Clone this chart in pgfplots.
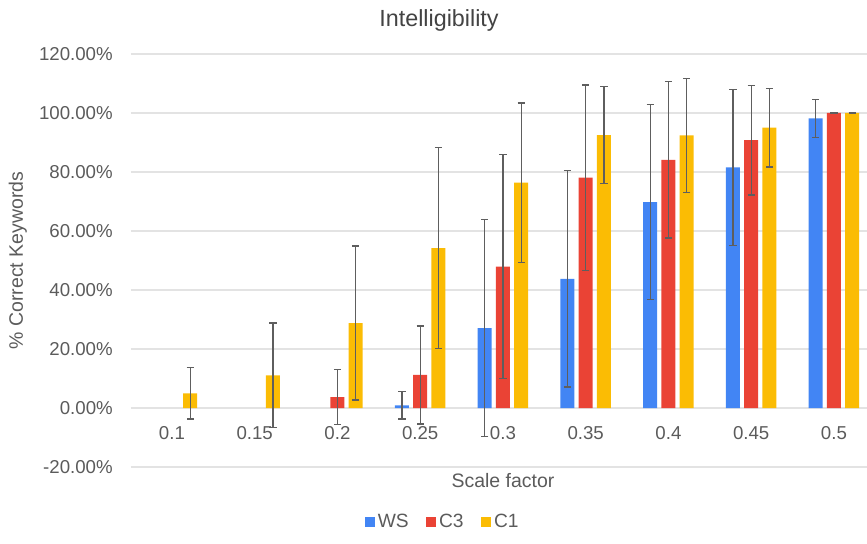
\documentclass[border=0pt]{standalone}
\usepackage{fontspec}
\setmainfont{Liberation Sans}
\usepackage{pgfplots}
\pgfplotsset{compat=1.18}

\definecolor{gblue}{HTML}{4285F4}
\definecolor{gred}{HTML}{EA4335}
\definecolor{gyellow}{HTML}{FBBC04}
\definecolor{errgray}{HTML}{5E5E5E}
\definecolor{gridgray}{HTML}{E3E3E3}
\definecolor{labelgray}{HTML}{5B5B5B}
\definecolor{titlegray}{HTML}{434343}

\pgfplotsset{
  sqlegend/.style={legend image code/.code={\fill[##1,draw=none] (0pt,-3.9pt) rectangle (7.8pt,3.9pt);}},
  errs/.style={error bars/.cd, y dir=both, y explicit,
    error bar style={errgray, line width=0.9pt},
    error mark options={errgray, line width=0.9pt, mark size=2.7pt, rotate=90}},
}

\begin{document}
\begin{tikzpicture}
\path[use as bounding box] (0,0) rectangle (650.25pt,407.25pt);
\begin{axis}[
    at={(97.95pt,57pt)}, anchor=south west,
    scale only axis,
    width=552.3pt, height=309.75pt,
    xmin=-0.5, xmax=8.4,
    ymin=-20, ymax=120,
    xtick={0,1,2,3,4,5,6,7,8},
    xticklabels={0.1,0.15,0.2,0.25,0.3,0.35,0.4,0.45,0.5},
    ytick={-20,0,20,40,60,80,100,120},
    yticklabels={-20.00\%,0.00\%,20.00\%,40.00\%,60.00\%,80.00\%,100.00\%,120.00\%},
    major tick length=0pt,
    axis line style={draw=none},
    ymajorgrids=true,
    grid style={gridgray, line width=0.8pt},
    ybar, bar width=10.5pt,
    tick label style={font=\fontsize{14}{16}\selectfont, text=labelgray},
    xticklabel style={anchor=base, inner sep=0pt, yshift=21pt},
    yticklabel style={anchor=east, inner sep=0pt, xshift=-13.2pt},
    title={Intelligibility},
    title style={font=\fontsize{17.5}{20}\selectfont, text=titlegray,
      at={(axis description cs:0.4188,1)}, anchor=center, yshift=19.5pt},
    xlabel={Scale factor},
    xlabel style={font=\fontsize{14.6}{17}\selectfont, text=labelgray,
      at={(axis description cs:0.5057,0)}, anchor=center, yshift=-10.5pt},
    ylabel={\% Correct Keywords},
    ylabel style={font=\fontsize{14.6}{17}\selectfont, text=labelgray,
      at={(axis description cs:0,0.5)}, anchor=center, yshift=84.5pt},
    legend columns=-1,
    legend style={at={(axis description cs:0.4242,0)}, anchor=center, yshift=-41.25pt,
      draw=none, fill=none, font=\fontsize{14.4}{16}\selectfont, text=labelgray,
      /tikz/every even column/.append style={column sep=11pt}},
]

% WS
\addplot[fill=gblue, draw=none, bar shift=-13.7pt, sqlegend, errs]
  coordinates {
  (3,0.9) +- (0,4.6)
  (4,27.1) +- (0,36.8)
  (5,43.8) +- (0,36.7)
  (6,69.8) +- (0,33.0)
  (7,81.6) +- (0,26.5)
  (8,98.2) +- (0,6.4)
  };
\addlegendentry{WS}

% C3
\addplot[fill=gred, draw=none, bar shift=0pt, sqlegend, errs]
  coordinates {
  (2,3.7) +- (0,9.4)
  (3,11.2) +- (0,16.6)
  (4,47.9) +- (0,38.0)
  (5,78.1) +- (0,31.4)
  (6,84.1) +- (0,26.5)
  (7,90.8) +- (0,18.6)
  (8,100) +- (0,0)
  };
\addlegendentry{C3}

% C1
\addplot[fill=gyellow, draw=none, bar shift=13.7pt, sqlegend, errs]
  coordinates {
  (0,5.0) +- (0,8.7)
  (1,11.1) +- (0,17.7)
  (2,28.8) +- (0,26.1)
  (3,54.2) +- (0,34.0)
  (4,76.4) +- (0,27.0)
  (5,92.5) +- (0,16.5)
  (6,92.4) +- (0,19.4)
  (7,95.0) +- (0,13.3)
  (8,100) +- (0,0)
  };
\addlegendentry{C1}

\end{axis}
\end{tikzpicture}
\end{document}
